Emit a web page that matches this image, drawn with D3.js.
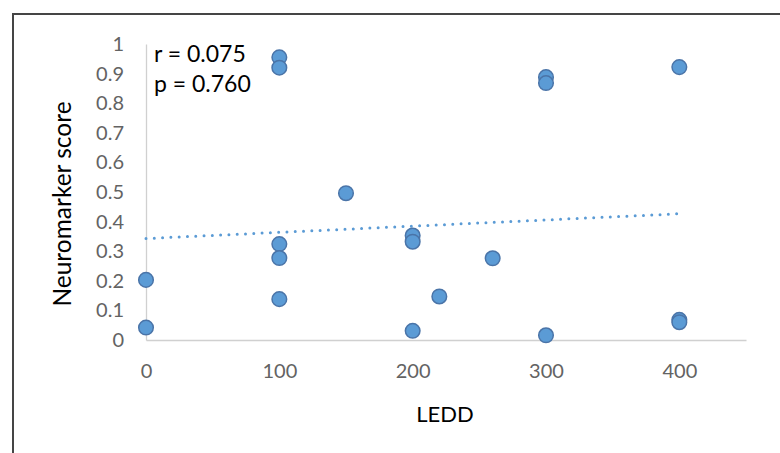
<!DOCTYPE html>
<html>
<head>
<meta charset="utf-8">
<script src="https://cdn.jsdelivr.net/npm/d3@7"></script>
<style>
  body { margin: 0; background: #fff; }
  svg { display: block; }
</style>
</head>
<body>
<script>
// Dados
const ledd = [0, 0, 100, 100, 100, 100, 100, 150, 200, 200, 200, 220, 260, 300, 300, 300, 400, 400, 400];
const score = [0.203, 0.042, 0.955, 0.92, 0.324, 0.277, 0.138, 0.496, 0.353, 0.332, 0.031, 0.147, 0.276, 0.888, 0.868, 0.016, 0.922, 0.068, 0.06];
const xTicks = [0, 100, 200, 300, 400];
const yTicks = [0, 0.1, 0.2, 0.3, 0.4, 0.5, 0.6, 0.7, 0.8, 0.9, 1];
const stats = ['r = 0.075', 'p = 0.760'];

const svgWidth = 780, svgHeight = 453;
const margin = { top: 44, right: 34, bottom: 113, left: 146 };
const width = svgWidth - margin.left - margin.right;
const height = svgHeight - margin.top - margin.bottom;
const font = 'Lato, "Open Sans", sans-serif';

const root = d3.select('body').append('svg')
    .attr('width', svgWidth)
    .attr('height', svgHeight);

// Moldura
root.append('rect')
    .attr('x', 13).attr('y', 14)
    .attr('width', 800).attr('height', 500)
    .attr('fill', 'none')
    .attr('stroke', '#454545')
    .attr('stroke-width', 2);

const svg = root.append('g')
    .attr('transform', `translate(${margin.left},${margin.top})`);

// Escalas
const xScale = d3.scaleLinear().domain([0, 450]).range([0, width]);
const yScale = d3.scaleLinear().domain([0, 1]).range([height, 0]);

// Eixos
const xAxis = svg.append('g')
    .attr('transform', `translate(0,${height})`)
    .call(d3.axisBottom(xScale).tickValues(xTicks).tickSize(0).tickPadding(24).tickFormat(d3.format('d')));
const yAxis = svg.append('g')
    .call(d3.axisLeft(yScale).tickValues(yTicks).tickSize(0).tickPadding(22).tickFormat(d => d === 0 || d === 1 ? d : d3.format('.1f')(d)));

[xAxis, yAxis].forEach(ax => {
    ax.select('.domain').attr('stroke', '#d0d0d0').attr('stroke-width', 1.3);
    ax.selectAll('text').attr('fill', '#636363').style('font-family', font).style('font-size', '20px');
});

// Títulos
svg.append('text')
    .attr('x', width / 2 - 1).attr('y', height + 82)
    .attr('text-anchor', 'middle')
    .style('font-family', font).style('font-size', '22px')
    .text('LEDD');
svg.append('text')
    .attr('transform', `translate(${-75},${height / 2 + 12}) rotate(-90)`)
    .attr('text-anchor', 'middle')
    .style('font-family', font).style('font-size', '24.5px')
    .text('Neuromarker score');

// Linha de tendência (mínimos quadrados)
const mx = d3.mean(ledd), my = d3.mean(score);
const sxy = d3.sum(ledd, (x, i) => (x - mx) * (score[i] - my));
const sxx = d3.sum(ledd, x => (x - mx) * (x - mx));
const slope = sxy / sxx, intercept = my - slope * mx;
const xr = d3.extent(ledd);
svg.append('line')
    .attr('x1', xScale(xr[0])).attr('y1', yScale(intercept + slope * xr[0]))
    .attr('x2', xScale(xr[1])).attr('y2', yScale(intercept + slope * xr[1]))
    .attr('stroke', '#5b9bd5')
    .attr('stroke-width', 3)
    .attr('stroke-linecap', 'round')
    .attr('stroke-dasharray', '0 8.3');

// Pontos
svg.selectAll('.ponto')
    .data(ledd)
    .enter()
    .append('circle')
    .attr('cx', d => xScale(d))
    .attr('cy', (d, i) => yScale(score[i]))
    .attr('r', 7.3)
    .attr('fill', '#5b9bd5')
    .attr('stroke', '#4a74a8')
    .attr('stroke-width', 1.5);

// Estatísticas
svg.selectAll('.stat')
    .data(stats)
    .enter()
    .append('text')
    .attr('x', 8)
    .attr('y', (d, i) => 18 + i * 30)
    .style('font-family', font).style('font-size', '23px')
    .text(d => d);
</script>
</body>
</html>
